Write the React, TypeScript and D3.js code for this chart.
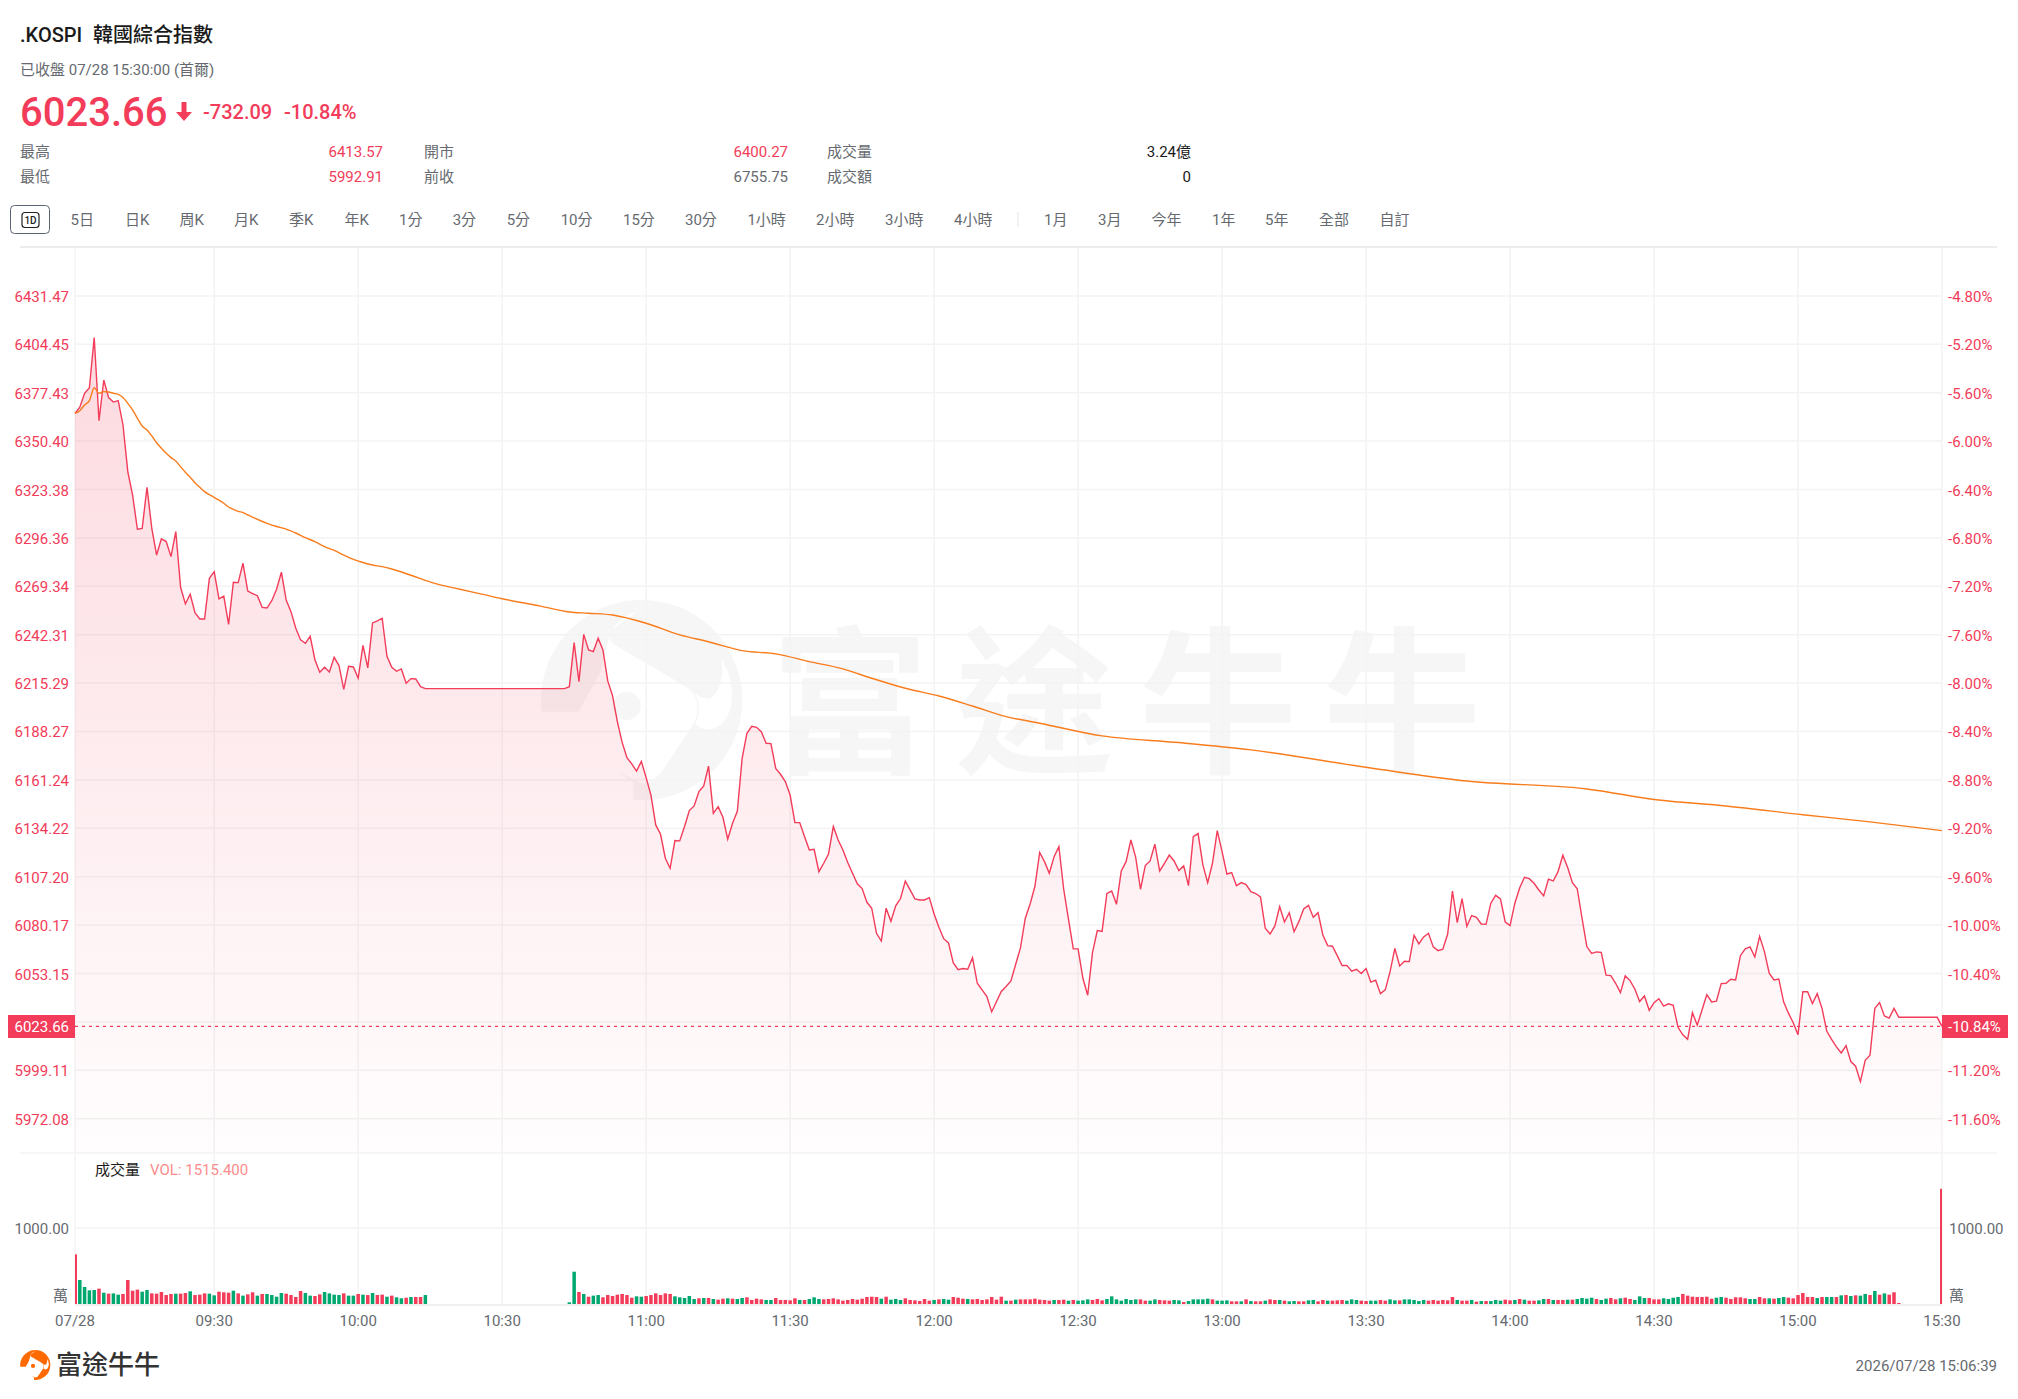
import React from "react";
import * as d3 from "d3";

const FONT = 'Roboto, "Noto Sans CJK TC", sans-serif';
const RED = "#f23c5a";
const GREEN = "#00a870";
const ORANGE = "#f97c1c";
const GREY = "#666a70";

const priceTicks = ["6431.47","6404.45","6377.43","6350.40","6323.38","6296.36","6269.34","6242.31","6215.29","6188.27","6161.24","6134.22","6107.20","6080.17","6053.15","5999.11","5972.08"];
const gridPrices = [6431.47,6404.45,6377.43,6350.40,6323.38,6296.36,6269.34,6242.31,6215.29,6188.27,6161.24,6134.22,6107.20,6080.17,6053.15,6026.13,5999.11,5972.08];
const pctTicks = ["-4.80%","-5.20%","-5.60%","-6.00%","-6.40%","-6.80%","-7.20%","-7.60%","-8.00%","-8.40%","-8.80%","-9.20%","-9.60%","-10.00%","-10.40%","-11.20%","-11.60%"];
const timeIndex = [0,29,59,89,119,149,179,209,239,269,299,329,359,389];
const timeLabels = ["07/28","09:30","10:00","10:30","11:00","11:30","12:00","12:30","13:00","13:30","14:00","14:30","15:00","15:30"];

const prices = [
6365.9,6369.3,6377.1,6380.2,6408.2,6361.8,6384.5,6374.7,6372.2,6373.0,6359.4,6333.4,6320.3,6301.2,6301.7,6324.6,6301.7,6286.8,6295.8,6294.3,
6285.9,6299.9,6268.8,6259.5,6264.9,6254.6,6251.1,6251.1,6273.8,6277.5,6262.3,6263.8,6248.1,6271.6,6271.4,6282.2,6266.7,6265.2,6264.1,6257.6,
6257.2,6261.3,6267.7,6277.2,6261.7,6255.2,6245.9,6239.4,6237.5,6241.4,6228.2,6221.3,6224.1,6221.5,6229.7,6225.1,6211.8,6224.7,6224.3,6218.0,
6236.4,6223.8,6248.9,6250.0,6251.5,6230.3,6224.1,6221.9,6223.2,6215.2,6217.8,6217.6,6213.3,6212.2,6212.2,6212.2,6212.2,6212.2,6212.2,6212.2,
6212.2,6212.2,6212.2,6212.2,6212.2,6212.2,6212.2,6212.2,6212.2,6212.2,6212.2,6212.2,6212.2,6212.2,6212.2,6212.2,6212.2,6212.2,6212.2,6212.2,
6212.2,6212.2,6212.2,6213.3,6237.9,6216.1,6242.5,6233.8,6232.9,6240.3,6233.8,6216.5,6208.3,6193.8,6182.2,6173.7,6170.2,6166.2,6171.6,6162.5,
6152.8,6136.1,6130.9,6117.5,6111.9,6127.4,6127.2,6135.2,6144.1,6146.7,6154.7,6157.9,6168.9,6142.6,6146.3,6140.4,6128.1,6137.0,6143.7,6173.3,
6187.3,6191.2,6190.6,6188.2,6181.7,6181.5,6167.7,6164.4,6160.3,6152.8,6137.4,6137.4,6129.6,6122.1,6122.5,6110.0,6114.7,6119.9,6135.2,6127.7,
6122.1,6115.1,6109.1,6103.2,6100.6,6092.9,6089.6,6075.6,6071.3,6089.6,6082.3,6090.9,6095.0,6104.7,6099.8,6094.8,6094.2,6094.2,6095.5,6086.4,
6079.0,6072.6,6070.2,6059.1,6055.3,6055.9,6055.5,6062.0,6047.7,6044.0,6040.3,6031.7,6037.5,6043.1,6045.9,6049.0,6058.3,6067.6,6084.0,6092.0,
6101.7,6120.7,6115.6,6109.1,6118.4,6124.0,6100.2,6083.4,6066.9,6066.9,6050.5,6041.0,6064.8,6077.1,6076.7,6097.9,6099.2,6091.8,6110.4,6115.6,
6127.7,6118.0,6100.2,6113.4,6116.0,6125.3,6110.4,6114.7,6119.3,6116.0,6110.6,6113.2,6102.2,6129.6,6131.3,6113.8,6103.9,6114.7,6132.9,6121.2,
6108.7,6109.5,6102.2,6103.9,6102.8,6098.9,6097.8,6095.9,6078.4,6075.2,6079.7,6090.5,6081.9,6087.1,6076.5,6082.1,6089.2,6091.2,6084.5,6087.1,
6074.7,6068.7,6068.4,6063.1,6057.6,6057.7,6054.4,6055.5,6053.1,6055.9,6048.3,6049.4,6041.9,6044.0,6054.2,6067.2,6057.4,6060.0,6059.8,6074.5,
6069.7,6073.6,6075.6,6068.0,6065.9,6066.7,6075.2,6099.2,6081.6,6095.0,6079.5,6085.5,6084.5,6080.8,6080.6,6092.4,6096.8,6094.8,6081.9,6079.9,
6092.4,6100.9,6106.9,6106.1,6103.5,6099.8,6096.5,6105.8,6104.8,6110.0,6119.2,6112.3,6103.9,6100.5,6084.0,6068.2,6064.4,6065.2,6065.0,6052.2,
6052.0,6047.7,6042.5,6051.8,6049.2,6044.5,6037.5,6040.6,6032.6,6036.9,6039.1,6035.0,6036.2,6035.4,6023.1,6018.9,6016.4,6031.3,6024.3,6032.8,
6041.4,6037.3,6037.7,6047.5,6047.7,6049.9,6049.6,6063.1,6066.9,6068.0,6062.4,6073.9,6065.4,6053.3,6049.6,6050.1,6037.3,6031.0,6025.7,6019.0,
6043.0,6043.0,6036.4,6041.9,6033.7,6020.9,6016.4,6012.2,6008.8,6012.9,6004.0,6001.4,5992.8,6004.7,6007.5,6033.7,6036.9,6029.5,6028.3,6033.7,
6028.7,6028.7,6028.7,6028.7,6028.7,6028.7,6028.7,6028.7,6028.7,6023.66,
];

const avgIndex = [0,1,2,3,4,5,6,7,8,9,10,11,12,13,14,15,16,17,18,19,20,21,22,23,24,25,26,27,28,29,30,31,32,33,34,35,36,40,42,44,46,48,50,52,54,56,58,60,62,64,66,70,75,80,85,89,97,103,107,112,119,126,132,139,146,153,160,166,173,180,187,194,201,214,230,245,270,290,315,330,344,360,374,389];
const avgValues = [6365.9,6367.4,6370.6,6373.0,6380.2,6377.1,6378.0,6377.8,6377.1,6376.5,6374.7,6371.5,6367.8,6363.1,6358.8,6356.6,6353.3,6349.5,6346.4,6343.6,6341.2,6339.3,6336.1,6333.0,6330.2,6327.2,6324.6,6322.2,6320.5,6319.0,6317.4,6315.7,6313.6,6312.3,6311.2,6310.5,6309.2,6304.5,6302.7,6301.3,6299.1,6296.5,6294.3,6291.5,6289.4,6286.8,6284.4,6282.6,6281.2,6280.3,6279.0,6275.5,6271.0,6267.8,6264.8,6262.4,6258.3,6255.0,6254.3,6253.3,6248.7,6242.2,6238.4,6233.4,6231.6,6227.3,6223.2,6218.0,6212.4,6208.1,6202.5,6196.6,6192.9,6185.8,6182.1,6178.0,6167.9,6160.6,6156.2,6150.0,6146.7,6141.8,6137.8,6132.9];

const volumes = [
653,316,224,180,184,202,149,136,140,123,132,316,175,189,162,184,140,136,158,118,
132,136,136,145,167,118,123,140,136,114,162,154,149,175,140,110,127,154,110,132,
132,118,96,145,136,118,92,171,145,110,105,127,158,140,123,118,140,110,110,132,
123,118,145,118,123,96,110,88,75,83,92,92,92,118,0,0,0,0,0,0,
0,0,0,0,0,0,0,0,0,0,0,0,0,0,0,0,0,0,0,0,
0,0,0,22,425,158,132,96,110,118,88,118,105,123,132,118,83,101,96,105,
118,140,118,140,132,101,88,79,105,66,75,79,79,66,57,70,75,70,66,79,
88,53,70,61,53,53,79,53,53,48,75,53,53,66,88,66,61,66,75,61,
44,53,66,57,70,92,96,92,70,96,57,66,53,75,53,48,39,66,44,53,
61,66,57,92,83,70,66,61,66,53,61,92,57,96,44,44,57,61,61,61,
70,57,53,44,53,53,57,44,53,44,48,61,53,66,48,66,101,61,44,66,
53,61,61,44,44,61,53,48,44,53,48,26,39,61,61,61,70,61,44,44,
48,35,35,35,61,39,35,35,44,61,53,53,44,35,39,35,35,48,53,35,
53,44,44,48,53,44,61,53,44,39,44,44,53,44,61,48,48,61,61,53,
39,53,44,53,44,53,48,92,53,44,44,53,31,39,39,39,53,44,57,48,
53,66,57,44,44,48,66,66,53,53,53,57,57,66,79,70,83,66,53,70,
79,61,75,83,66,53,101,79,79,61,61,75,66,83,92,132,110,96,92,92,
96,70,83,92,83,66,88,88,75,66,66,92,75,75,70,79,92,83,75,118,
145,92,92,79,92,92,92,92,114,118,105,114,110,132,118,171,123,140,123,154,
13,0,0,0,0,0,0,0,0,1515.4,
];

const volumeDirection = (
"rgggg" + "rgrgg" + "rrrrg" + "grrrr" + "rgrrg" + "rrrgg" + "rrrgr" + "grrgr" + "ggggr" + "rrrgg" + "rrggg" + "grggr" + "grgrr" + "grggr" + "grrg" +
"rrrrrrrrrrrrrrrrrrrrrrrrrrrrr" +
"ggrgr" + "ggrrr" + "rrrrg" + "grrrr" + "rrggg" + "ggrgr" + "grrgr" + "ggrrr" + "rggrr" + "rrrgr" + "ggg" + "rrrrr" + "rrrrr" + "rrgrg" + "ggrrr" + "rrrgr" + "ggrr" + "rgrrr" + "rrrrg" + "rgrrr" + "rrrrg" + "rrgrg" + "ggrrr" + "gggggg" + "grrggrrrgg" +
"rgggggrggg" + "rrgrgrrgrr" + "grggrrggrr" + "grrrgggrrg" + "grrggrgggg" + "grrrrrrgrr" + "grgrggg" + "rrgrgrrggrg" + "rrgrggggrg" + "grrgrrgggrr" + "rggggrrrrrr" + "rggr" +
"rrrrg" + "grrgr" + "ggrrr" + "rrrgr" + "ggrgr" + "grggr" + "grgrr" + "rgrrr" + "rgrrr" + "rrrrg" + "rrrgr" + "ggggr" + "rrrrrrrrrr"
).split("");

const x = d3.scaleLinear().domain([0, 389]).range([75, 1942]);
const y = d3.scaleLinear().domain([6404.45, 5999.11]).range([344.3, 1070.3]);
const yVol = d3.scaleLinear().domain([0, 1000]).range([1304, 1228]);

const priceLine = d3.line<number>().x((_, i) => x(i)).y((d) => y(d));
const priceArea = d3.area<number>().x((_, i) => x(i)).y0(1153).y1((d) => y(d));
const avgLine = d3.line<number>().x((_, i) => x(avgIndex[i])).y((d) => y(d)).curve(d3.curveMonotoneX);

const toolbarLeft: [string, number][] = [["5日",70.5],["日K",125],["周K",179.5],["月K",234],["季K",289],["年K",344.6],["1分",399],["3分",452.7],["5分",506.7],["10分",560.7],["15分",623],["30分",685],["1小時",747.4],["2小時",816],["3小時",885],["4小時",954],["1月",1044],["3月",1098],["今年",1151.5],["1年",1212],["5年",1265],["全部",1319],["自訂",1379.6]];

const BULL_LEFT = "M5 335 A300 300 0 0 1 285 1 L290 35 C250 45 215 80 208 110 L180 220 L115 335 Z";
const BULL_RIGHT = "M285 1 A300 300 0 1 1 280 599 L280 548 L235 515 L300 548 C330 550 350 535 365 515 L455 380 C480 340 480 290 440 262 L225 135 C205 122 205 100 215 90 L290 35 Z";
const BULL_CHEEK = "M545 180 C552 235 535 290 505 296 C490 296 475 288 462 278 C480 300 482 340 465 372 C490 395 530 395 555 360 C585 320 585 240 545 180 Z";

function Bull({ left, top, size, fill }: { left: number; top: number; size: number; fill: string }) {
  const k = size / 600;
  return (
    <g transform={`translate(${left},${top}) scale(${k})`}>
      <path d={BULL_LEFT} fill={fill} />
      <path d={BULL_RIGHT} fill={fill} />
      <path d={BULL_CHEEK} fill="#fff" />
      <circle cx={260} cy={318} r={42} fill={fill} />
    </g>
  );
}

export default function App() {
  return (
    <svg width={2018} height={1399} style={{ position: "fixed", left: 0, top: 0, background: "#fff" }} fontFamily={FONT}>
      <defs>
        <linearGradient id="fade" gradientUnits="userSpaceOnUse" x1={0} x2={0} y1={340} y2={1153}>
          <stop offset="0" stopColor={RED} stopOpacity={0.19} />
          <stop offset="1" stopColor={RED} stopOpacity={0.01} />
        </linearGradient>
      </defs>

      {/* header */}
      <text x={20} y={35} fontSize={20} fontWeight={500} fill="#1a1a1a" dominantBaseline="central">.KOSPI</text>
      <text x={93} y={35} fontSize={20} fontWeight={500} fill="#1a1a1a" dominantBaseline="central">韓國綜合指數</text>
      <text x={20} y={70} fontSize={15} fill={GREY} dominantBaseline="central">已收盤 07/28 15:30:00 (首爾)</text>
      <text x={20} y={112} fontSize={40} fontWeight={500} fill={RED} dominantBaseline="central">6023.66</text>
      <path d="M181.5 102 h5 v10 h5.5 l-8 9 l-8 -9 h5.5 Z" fill={RED} />
      <text x={203} y={112} fontSize={20} fontWeight={500} fill={RED} dominantBaseline="central">-732.09</text>
      <text x={284} y={112} fontSize={20} fontWeight={500} fill={RED} dominantBaseline="central">-10.84%</text>

      <g fontSize={15} dominantBaseline="central" fill={GREY}>
        <text x={20} y={152}>最高</text>
        <text x={20} y={177}>最低</text>
        <text x={424} y={152}>開市</text>
        <text x={424} y={177}>前收</text>
        <text x={827} y={152}>成交量</text>
        <text x={827} y={177}>成交額</text>
        <text x={383} y={152} textAnchor="end" fill={RED}>6413.57</text>
        <text x={383} y={177} textAnchor="end" fill={RED}>5992.91</text>
        <text x={788} y={152} textAnchor="end" fill={RED}>6400.27</text>
        <text x={788} y={177} textAnchor="end">6755.75</text>
        <text x={1191} y={152} textAnchor="end" fill="#1a1a1a">3.24億</text>
        <text x={1191} y={177} textAnchor="end" fill="#1a1a1a">0</text>
      </g>

      {/* toolbar */}
      <rect x={10.5} y={205.5} width={39} height={28} rx={4} fill="#fff" stroke="#5a6472" strokeWidth={1} />
      <rect x={22} y={212.5} width={17} height={15} rx={3} fill="none" stroke="#222" strokeWidth={1.2} />
      <text x={30.5} y={220.5} fontSize={10} fontWeight={500} fill="#222" textAnchor="middle" dominantBaseline="central">1D</text>
      <g fontSize={15} fill={GREY} dominantBaseline="central">
        {toolbarLeft.map(([t, px]) => (
          <text key={t} x={px} y={220}>{t}</text>
        ))}
      </g>
      <line x1={1018} x2={1018} y1={212} y2={227} stroke="#e4e4e4" />

      {/* watermark */}
      <Bull left={540} top={600} size={200} fill="#f6f6f6" />
      <text x={771} y={692} textLength={710} fontSize={158} fontWeight={700} fill="#f6f6f6" fontFamily='"Noto Sans CJK TC", sans-serif' dominantBaseline="central">富途牛牛</text>

      {/* grid */}
      <g stroke="#f3f3f3" strokeWidth={1.5}>
        {gridPrices.map((p) => (
          <line key={p} x1={75} x2={1942} y1={y(p)} y2={y(p)} />
        ))}
        <line x1={75} x2={1942} y1={yVol(1000)} y2={yVol(1000)} />
        {timeIndex.map((t) => (
          <line key={t} x1={x(t)} x2={x(t)} y1={247} y2={1304} />
        ))}
        <line x1={20} x2={1997} y1={1153} y2={1153} />
      </g>
      <line x1={20} x2={1997} y1={247} y2={247} stroke="#ececec" strokeWidth={2} />
      <line x1={75} x2={1942} y1={1305} y2={1305} stroke="#f0f0f0" strokeWidth={2} />

      {/* price */}
      <path d={priceArea(prices) ?? ""} fill="url(#fade)" />
      <line x1={75} x2={1942} y1={y(6023.66)} y2={y(6023.66)} stroke={RED} strokeWidth={1.3} strokeDasharray="3 4" />
      <path d={priceLine(prices) ?? ""} fill="none" stroke={RED} strokeWidth={1.4} />
      <path d={avgLine(avgValues) ?? ""} fill="none" stroke={ORANGE} strokeWidth={1.4} />

      {/* axes */}
      <g fontSize={15} fill={RED} dominantBaseline="central">
        {priceTicks.map((t) => (
          <text key={t} x={69} y={y(+t) + 1} textAnchor="end">{t}</text>
        ))}
        {pctTicks.map((t, i) => (
          <text key={t} x={1948} y={y(+priceTicks[i]) + 1}>{t}</text>
        ))}
      </g>
      <rect x={8} y={1015} width={67} height={23} fill={RED} />
      <rect x={1942} y={1015} width={66} height={23} fill={RED} />
      <g fontSize={15} fill="#fff" dominantBaseline="central">
        <text x={69} y={1026.5} textAnchor="end">6023.66</text>
        <text x={1948} y={1026.5}>-10.84%</text>
      </g>

      {/* volume */}
      <text x={95} y={1170} fontSize={15} fill="#1a1a1a" dominantBaseline="central">成交量</text>
      <text x={150} y={1170} fontSize={15} fill="#fb8c8c" dominantBaseline="central">VOL: 1515.400</text>
      <g>
        {volumes.map((v, i) =>
          v > 0 ? (
            <rect
              key={i}
              x={i === 0 || i === 389 ? x(i) - (i === 389 ? 2 : 0) : x(i) - 1.75}
              width={i === 0 || i === 389 ? 2 : 3.5}
              y={yVol(v)}
              height={yVol(0) - yVol(v)}
              fill={volumeDirection[i] === "g" ? GREEN : RED}
            />
          ) : null
        )}
      </g>
      <g fontSize={15} fill={GREY} dominantBaseline="central">
        <text x={69} y={1229} textAnchor="end">1000.00</text>
        <text x={68} y={1296} textAnchor="end">萬</text>
        <text x={1949} y={1229}>1000.00</text>
        <text x={1949} y={1296}>萬</text>
        {timeIndex.map((t, i) => (
          <text key={t} x={x(t)} y={1320.7} textAnchor="middle">{timeLabels[i]}</text>
        ))}
      </g>

      {/* footer */}
      <Bull left={20} top={1350} size={30} fill="#ff6a00" />
      <text x={56} y={1365} fontSize={26} fontWeight={500} fill="#333" dominantBaseline="central">富途牛牛</text>
      <text x={1997} y={1366} fontSize={15} fill={GREY} textAnchor="end" dominantBaseline="central">2026/07/28 15:06:39</text>
    </svg>
  );
}
